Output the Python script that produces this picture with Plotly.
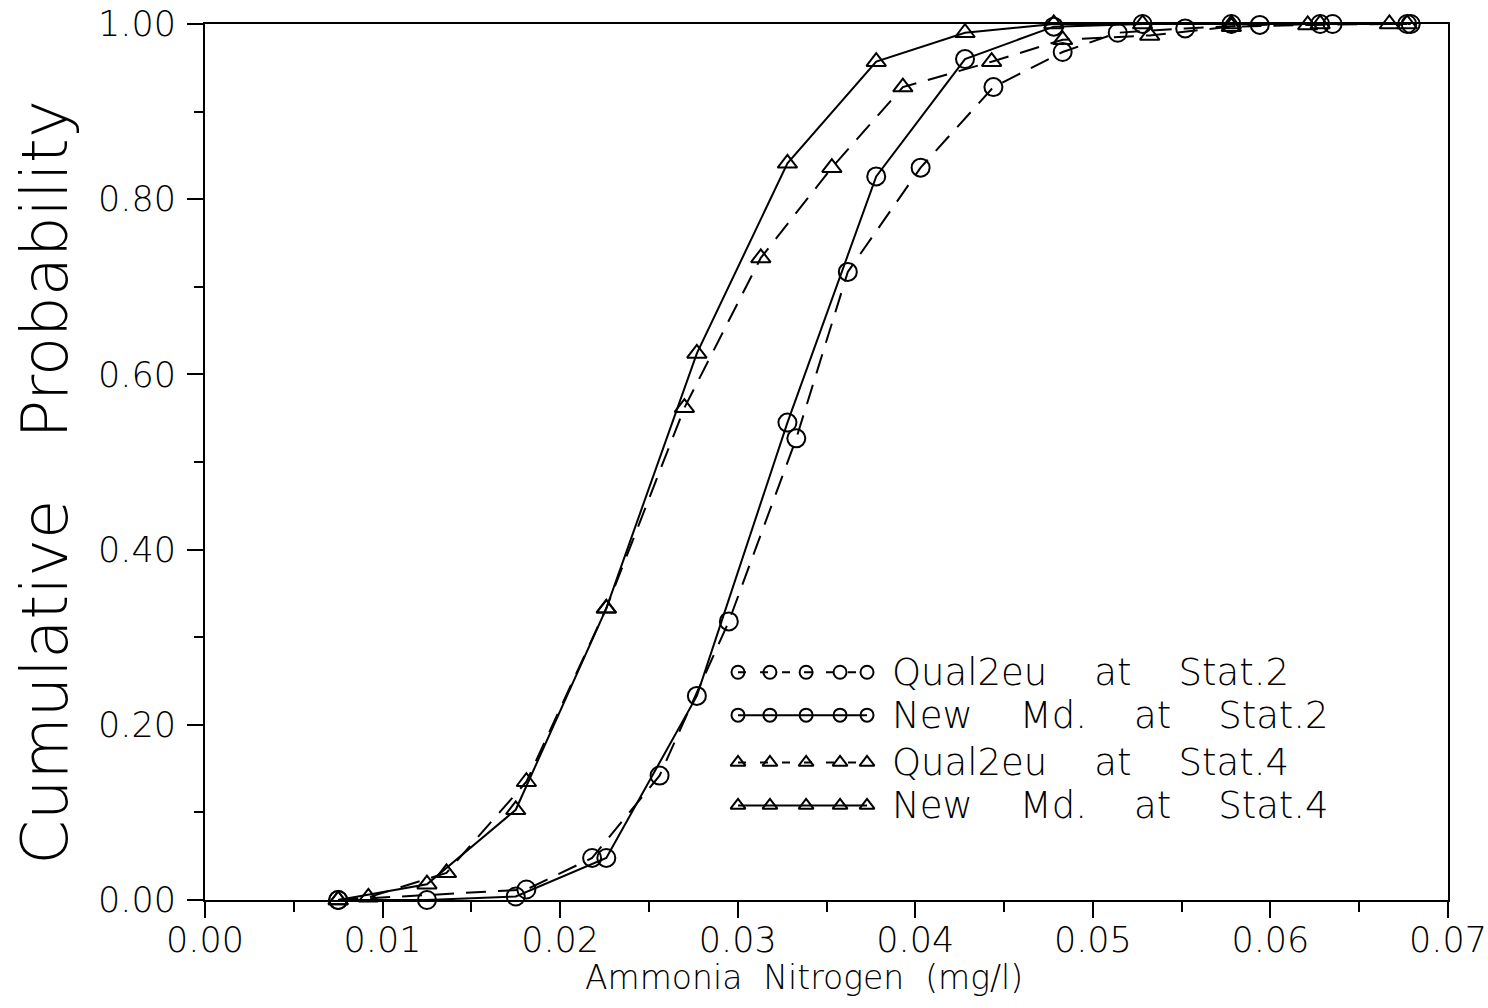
import plotly.graph_objects as go

# ---------------- data ----------------
# New Md. at Stat.2 (solid line, circles)
new2_x = [0.0075, 0.0125, 0.0175, 0.0226, 0.0277, 0.0328, 0.0378, 0.0428, 0.0478, 0.0528, 0.0578, 0.0628, 0.0677]
new2_y = [0.000, 0.000, 0.004, 0.048, 0.233, 0.545, 0.826, 0.960, 0.997, 1.000, 1.000, 1.000, 1.000]

# New Md. at Stat.4 (solid line, triangles)
new4_x = [0.0075, 0.0125, 0.0175, 0.0226, 0.0277, 0.0328, 0.0378, 0.0428, 0.0478, 0.0528, 0.0578, 0.0628, 0.0677]
new4_y = [0.000, 0.018, 0.103, 0.333, 0.624, 0.841, 0.957, 0.990, 1.000, 1.000, 1.000, 1.000, 1.000]

# Qual2eu at Stat.2 (dashed line, circles)
q2_x = [0.0075, 0.0181, 0.0218, 0.0256, 0.0295, 0.0333, 0.0362, 0.0403, 0.0444, 0.0483, 0.0514, 0.0552, 0.0594, 0.0635, 0.0679]
q2_y = [0.000, 0.012, 0.048, 0.142, 0.318, 0.527, 0.717, 0.836, 0.928, 0.968, 0.990, 0.995, 0.999, 1.000, 1.000]

# Qual2eu at Stat.4 (dashed line, triangles)
q4_x = [0.0075, 0.0092, 0.0136, 0.0181, 0.0226, 0.0270, 0.0313, 0.0353, 0.0393, 0.0443, 0.0483, 0.0532, 0.0578, 0.0621, 0.0667]
q4_y = [0.000, 0.003, 0.031, 0.135, 0.333, 0.562, 0.733, 0.836, 0.928, 0.957, 0.982, 0.987, 0.997, 0.999, 1.000]

SP = "\u00a0\u00a0\u00a0\u00a0"
series_names = [f"Qual2eu{SP}at{SP}Stat.2", f"New{SP}Md.{SP}at{SP}Stat.2",
                f"Qual2eu{SP}at{SP}Stat.4", f"New{SP}Md.{SP}at{SP}Stat.4"]

x_ticks = [0.00, 0.01, 0.02, 0.03, 0.04, 0.05, 0.06, 0.07]
y_ticks = [0.00, 0.20, 0.40, 0.60, 0.80, 1.00]

# ---------------- style ----------------
FONT = "DejaVu Sans"
W = 200
BLACK = "black"
DASH = "20px,12px"

styles = [
    dict(x=q2_x, y=q2_y, dash=DASH, symbol="circle-open", size=18),
    dict(x=new2_x, y=new2_y, dash="solid", symbol="circle-open", size=18),
    dict(x=q4_x, y=q4_y, dash=DASH, symbol="triangle-up-open", size=17),
    dict(x=new4_x, y=new4_y, dash="solid", symbol="triangle-up-open", size=17),
]

fig = go.Figure()
for name, s in zip(series_names, styles):
    fig.add_trace(go.Scatter(
        x=s["x"], y=s["y"], mode="lines+markers", name=name, showlegend=False,
        line=dict(color=BLACK, width=2, dash=s["dash"]),
        marker=dict(symbol=s["symbol"], size=s["size"], color=BLACK, line=dict(width=2, color=BLACK)),
        cliponaxis=False,
    ))

# ---------------- hand-drawn legend (in plot-fraction coordinates) ----------------
leg_mx = [0.4288, 0.4545, 0.4836, 0.5109, 0.5326]
leg_rows = [0.260, 0.211, 0.157, 0.108]
leg_text_x = 0.551
for name, s, ry in zip(series_names, styles, leg_rows):
    fig.add_trace(go.Scatter(
        x=leg_mx, y=[ry] * len(leg_mx), xaxis="x2", yaxis="y2", mode="lines+markers",
        showlegend=False, hoverinfo="skip",
        line=dict(color=BLACK, width=2, dash="8px,14px" if s["dash"] != "solid" else "solid"),
        marker=dict(symbol=s["symbol"], size=13, color=BLACK, line=dict(width=2, color=BLACK)),
    ))
    fig.add_annotation(x=leg_text_x, y=ry, xref="x2", yref="y2", text=name, showarrow=False,
                       xanchor="left", yanchor="middle",
                       font=dict(family=FONT, size=37, color=BLACK, weight=W))

axis_common = dict(showgrid=False, zeroline=False, showline=True, linecolor=BLACK, linewidth=2,
                   mirror=True, ticks="outside", tickcolor=BLACK, tickwidth=2, automargin=False,
                   ticklabeloverflow="allow",
                   tickfont=dict(family=FONT, size=35, color=BLACK, weight=W))

fig.update_layout(
    width=1488, height=1008,
    margin=dict(l=205, r=40, t=24, b=108, autoexpand=False),
    paper_bgcolor="white", plot_bgcolor="white",
    xaxis=dict(range=[0, 0.07], tickvals=x_ticks, ticktext=[f"{v:.2f}" for v in x_ticks], ticklen=16,
               ticklabelstandoff=-8,
               minor=dict(dtick=0.005, tick0=0, ticks="outside", ticklen=10, tickwidth=2, tickcolor=BLACK),
               **axis_common),
    yaxis=dict(range=[0, 1], tickvals=y_ticks, ticktext=[f"{v:.2f}" for v in y_ticks], ticklen=16,
               ticklabelstandoff=4,
               minor=dict(dtick=0.1, tick0=0, ticks="outside", ticklen=9, tickwidth=2, tickcolor=BLACK),
               **axis_common),
    xaxis2=dict(range=[0, 1], overlaying="x", visible=False),
    yaxis2=dict(range=[0, 1], overlaying="y", visible=False),
    annotations=list(fig.layout.annotations) + [
        dict(text="Ammonia\u00a0\u00a0Nitrogen\u00a0\u00a0(mg/l)", xref="paper", yref="paper", x=0.482, y=-0.089,
             xanchor="center", yanchor="middle", showarrow=False,
             font=dict(family=FONT, size=33, color=BLACK, weight=W)),
        dict(text="Cumulative\u00a0\u00a0\u00a0Probability", xref="paper", yref="paper", x=-0.129, y=0.477,
             xanchor="center", yanchor="middle", textangle=-90, showarrow=False,
             font=dict(family=FONT, size=64, color=BLACK, weight=W)),
    ],
)

fig.write_html("out.html")
